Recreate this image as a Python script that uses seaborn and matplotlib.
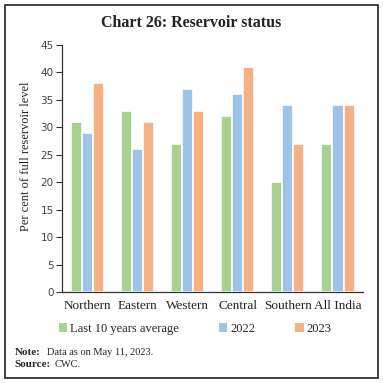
import matplotlib

matplotlib.use("Agg")
import matplotlib.pyplot as plt
import pandas as pd
import seaborn as sns
from matplotlib.patches import Patch, Rectangle

regions = ["Northern", "Eastern", "Western", "Central", "Southern", "All India"]
series = ["Last 10 years average", "2022", "2023"]
avg_10yr = [31, 33, 27, 32, 20, 27]
y2022 = [29, 26, 37, 36, 34, 34]
y2023 = [38, 31, 33, 41, 27, 34]
colors = ["#A9D18E", "#9DC3E6", "#F4B183"]

df = pd.DataFrame(
    {
        "Region": regions * 3,
        "Series": [s for s in series for _ in regions],
        "Value": avg_10yr + y2022 + y2023,
    }
)

sns.set_style("white")
serif = "Liberation Serif"

fig = plt.figure(figsize=(3.83, 3.83), dpi=100)
ax = fig.add_axes([0.162, 0.2376, 0.786, 0.645])

sns.barplot(
    data=df,
    x="Region",
    y="Value",
    hue="Series",
    hue_order=series,
    palette=colors,
    width=0.66,
    edgecolor="white",
    linewidth=1.2,
    saturation=1,
    ax=ax,
    legend=False,
)

ax.set_ylim(0, 45)
ax.set_yticks(range(0, 46, 5))
ax.set_xlim(-0.5, len(regions) - 0.5)
ax.set_xlabel("")
ax.set_ylabel("Per cent of full reservoir level", family=serif, fontsize=9, color="#222222")
ax.yaxis.set_label_coords(-0.1, 0.55)

for side in ["top", "right"]:
    ax.spines[side].set_visible(False)
for side in ["left", "bottom"]:
    ax.spines[side].set_color("#333333")
    ax.spines[side].set_linewidth(0.9)

ax.tick_params(axis="y", direction="out", length=4, width=0.8, color="#333333",
               labelsize=7.5, labelcolor="#444444", left=True, pad=2)
ax.tick_params(axis="x", which="major", length=0, pad=6)
ax.set_xticks([i - 0.5 for i in range(len(regions) + 1)], minor=True)
ax.tick_params(axis="x", which="minor", direction="out", length=4, width=0.8, color="#333333")
for lbl in ax.get_xticklabels():
    lbl.set_family(serif)
    lbl.set_fontsize(9.5)
    lbl.set_color("#222222")

handles = [Patch(facecolor=c, edgecolor="none") for c in colors]
fig.legend(
    handles,
    series,
    loc="center",
    bbox_to_anchor=(0.509, 0.142),
    ncol=3,
    frameon=False,
    prop={"family": serif, "size": 9},
    handlelength=0.7,
    handleheight=0.7,
    handletextpad=0.2,
    columnspacing=3.2,
)

fig.text(0.5, 0.94, "Chart 26: Reservoir status", ha="center", va="center",
         family=serif, fontsize=11.5, fontweight="bold", color="#222222")

# footnotes
fig.text(0.039, 0.08, "Note:", family=serif, fontsize=8, fontweight="bold", va="center")
fig.text(0.122, 0.08, "Data as on May 11, 2023.", family=serif, fontsize=7.5, va="center")
fig.text(0.039, 0.047, "Source:", family=serif, fontsize=8, fontweight="bold", va="center")
fig.text(0.142, 0.047, "CWC.", family=serif, fontsize=7.5, va="center")

fig.patches.append(
    Rectangle((0.012, 0.012), 0.975, 0.975, transform=fig.transFigure,
              fill=False, edgecolor="#222222", linewidth=1.2)
)

fig.savefig("out.png", dpi=100)
